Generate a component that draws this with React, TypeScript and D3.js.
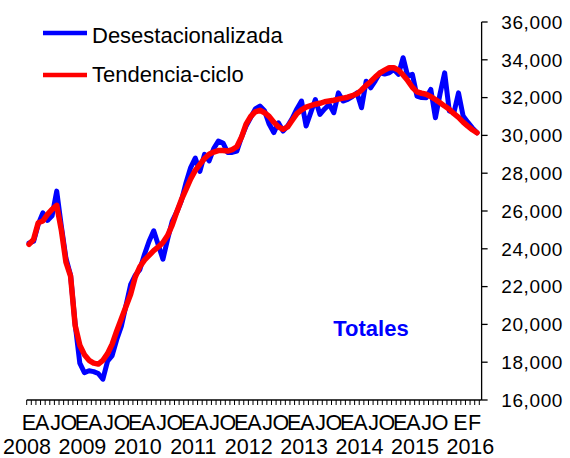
import React from "react";
import * as d3 from "d3";

const years = ["2008", "2009", "2010", "2011", "2012", "2013", "2014", "2015", "2016"];
const monthLetters = ["E", "A", "J", "O"];
const lastYearLetters = ["E", "F"];

const desestacionalizada = [
  24300, 24400, 25300, 25900, 25500, 25750, 27050, 25200, 23500, 22600, 20000, 17950,
  17450, 17550, 17500, 17400, 17100, 18050, 18350, 19200, 19900, 21000, 22100, 22600,
  22900, 23700, 24400, 24950, 24200, 23450, 24500, 25450, 25950, 26550, 27500, 28300,
  28800, 28100, 29000, 28650, 29300, 29700, 29600, 29100, 29100, 29170, 29900, 30500,
  30950, 31400, 31550, 31300, 30600, 30150, 30670, 30230, 30500, 30900, 31400, 31820,
  30500, 31200, 31900, 31110, 31400, 31640, 31200, 32250, 31820, 31900, 32050, 32250,
  31460, 32870, 32520, 32900, 33310, 33250, 33310, 33490, 33230, 34110, 33140, 33230,
  32080, 32000, 31990, 32430, 30930, 32200, 33310, 31290, 31200, 32250, 31020, 30700,
  30400, 30140,
];

const tendenciaCiclo = [
  24240, 24500, 25380, 25470, 25820, 26090, 26300, 25000, 23300, 22560, 19930, 18900,
  18400, 18100, 17950, 17900, 18100, 18450, 18950, 19650, 20300, 20950, 21600, 22500,
  23050, 23400, 23650, 23900, 24100, 24330, 24700, 25250, 25950, 26600, 27150, 27700,
  28150, 28470, 28780, 29000, 29120, 29200, 29200, 29170, 29250, 29400, 29900, 30600,
  31000, 31250, 31330, 31200, 31000, 30700, 30450, 30320, 30450, 30800, 31150, 31350,
  31500, 31580, 31650, 31700, 31780, 31820, 31860, 31920, 31970, 32020, 32100, 32200,
  32400, 32650, 32850, 33100, 33310, 33450, 33580, 33580, 33450, 33200, 32900, 32550,
  32300, 32230, 32180, 32050, 31900, 31730, 31550, 31380, 31150, 30950, 30700, 30490,
  30300, 30140,
];

const yTicks = [16000, 18000, 20000, 22000, 24000, 26000, 28000, 30000, 32000, 34000, 36000];
const seriesNames = ["Desestacionalizada", "Tendencia-ciclo"];
const seriesColors = ["#0000FF", "#FF0000"];
const title = "Totales";

const FONT = "'Liberation Sans', Arial, sans-serif";

export default function App() {
  const W = 570;
  const H = 458;
  const n = desestacionalizada.length;
  const x = d3.scaleLinear().domain([0, n - 1]).range([29, 477]);
  const step = x(1) - x(0);
  // month-letter label positions (slightly tighter than the data categories)
  const xLabel = d3.scaleLinear().domain([0, 93]).range([29, 440]);
  const y = d3.scaleLinear().domain([16000, 36000]).range([400, 22]);
  const axisX = x(n - 1) + step;
  const left = x(0) - step / 2;
  const bottom = y(16000);

  const line = d3
    .line<number>()
    .x((_, i) => x(i))
    .y((d) => y(d));

  const fmt = d3.format(",");

  const monthLabels: { i: number; t: string; px: number }[] = [];
  years.forEach((yr, yi) => {
    const isLast = yi === years.length - 1;
    const letters = isLast ? lastYearLetters : monthLetters;
    letters.forEach((t, li) => {
      const i = isLast ? yi * 12 + li : yi * 12 + li * 3;
      if (i < n) {
        const px = isLast ? (li === 0 ? x(i) - 12 : x(i) - 2.5) : xLabel(i);
        monthLabels.push({ i, t, px });
      }
    });
  });

  return (
    <svg
      width={W}
      height={H}
      style={{ position: "absolute", left: 0, top: 0, background: "#fff" }}
      fontFamily={FONT}
    >
      <line x1={left} x2={axisX} y1={bottom} y2={bottom} stroke="#000" strokeWidth={1.3} />
      {d3.range(n + 1).map((i) => (
        <line
          key={"xt" + i}
          x1={left + i * step}
          x2={left + i * step}
          y1={bottom}
          y2={bottom + 5}
          stroke="#000"
          strokeWidth={1}
        />
      ))}
      <line x1={axisX} x2={axisX} y1={y(36000)} y2={bottom} stroke="#000" strokeWidth={1.3} />
      {yTicks.map((v) => (
        <g key={"yt" + v}>
          <line x1={axisX} x2={axisX + 6} y1={y(v)} y2={y(v)} stroke="#000" strokeWidth={1.3} />
          <text
            x={563}
            y={y(v)}
            dy="0.36em"
            textAnchor="end"
            fontSize={19}
            letterSpacing={0.6}
            fill="#000"
          >
            {fmt(v)}
          </text>
        </g>
      ))}
      {monthLabels.map((m) => (
        <text key={"ml" + m.i} x={m.px} y={430} textAnchor="middle" fontSize={21.5} fill="#000">
          {m.t}
        </text>
      ))}
      {years.map((yr, yi) => (
        <text key={"yr" + yr} x={x(yi * 12) - 2} y={453.5} textAnchor="middle" fontSize={21.5} fill="#000">
          {yr}
        </text>
      ))}

      <path
        d={line(desestacionalizada) || ""}
        fill="none"
        stroke={seriesColors[0]}
        strokeWidth={5}
        strokeLinejoin="round"
        strokeLinecap="round"
      />
      <path
        d={line(tendenciaCiclo) || ""}
        fill="none"
        stroke={seriesColors[1]}
        strokeWidth={5.5}
        strokeLinejoin="round"
        strokeLinecap="round"
      />

      {seriesNames.map((name, i) => (
        <g key={name}>
          <line
            x1={43}
            x2={87}
            y1={33 + i * 42}
            y2={33 + i * 42}
            stroke={seriesColors[i]}
            strokeWidth={4.5}
          />
          <text x={92} y={42.5 + i * 39} fontSize={22} fill="#000">
            {name}
          </text>
        </g>
      ))}

      <text x={371} y={335.5} textAnchor="middle" fontSize={22} fontWeight="bold" fill="#0000FF">
        {title}
      </text>
    </svg>
  );
}
